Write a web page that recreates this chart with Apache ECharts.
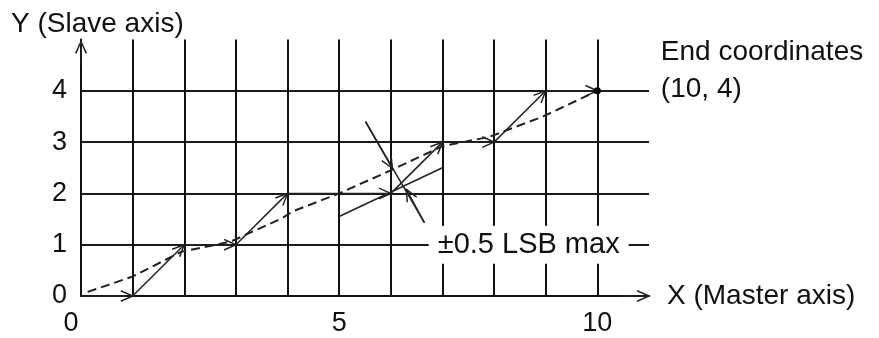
<!DOCTYPE html>
<html>
<head>
<meta charset="utf-8">
<script src="https://cdn.jsdelivr.net/npm/echarts@6/dist/echarts.min.js"></script>
<style>
  html, body { margin: 0; padding: 0; background: #fff; }
  #chart { width: 879px; height: 338px; }
</style>
</head>
<body>
<div id="chart"></div>
<script>
  // tick labels shown on the axes
  var xTicks = [0, 5, 10];
  var yTicks = [0, 1, 2, 3, 4];

  // solid steps taken by the slave axis: [x1, y1, x2, y2, arrowhead]
  var stepSegments = [
    [0, 0, 1, 0, 1], [1, 0, 2, 1, 1], [2, 1, 3, 1, 1], [3, 1, 4, 2, 1],
    [4, 2, 5, 2, 0], [5, 2, 6, 2, 1], [6, 2, 7, 3, 1], [7, 3, 8, 3, 1],
    [8, 3, 9, 4, 1], [9, 4, 10, 4, 1]
  ];
  // error marker around (6, 2)
  var errorSegments = [
    [5, 1.55, 7, 2.5, 0],
    [5.51, 3.4, 6.65, 1.43, 0],
    [5.51, 3.4, 6.03, 2.49, 1],
    [6.65, 1.43, 6.3, 2.08, 1]
  ];
  // axis arrowheads
  var axisHeads = [[0, 4.5, 0, 4.96, 1], [10.4, 0, 11, 0, 1]];

  // dashed ideal path
  var idealPath = [
    [0.13, 0.08], [1, 0.38], [1.94, 0.86], [2.9, 1.06], [3.9, 1.52], [4.1, 1.65],
    [5, 2.0], [6, 2.45], [7, 2.92], [7.9, 3.1], [8.95, 3.5], [10, 4]
  ];
  var endPoint = [10, 4];
  var errorLabelAt = [8.67, 1];

  var FONT = 'Liberation Sans, Arial, sans-serif';

  function renderArrow(params, api) {
    var p1 = api.coord([api.value(0), api.value(1)]);
    var p2 = api.coord([api.value(2), api.value(3)]);
    var style = { stroke: '#222', lineWidth: 1.5, fill: null };
    var kids = [{
      type: 'line',
      shape: { x1: p1[0], y1: p1[1], x2: p2[0], y2: p2[1] },
      style: style
    }];
    if (api.value(4)) {
      var a = Math.atan2(p2[1] - p1[1], p2[0] - p1[0]);
      var L = 13, w = 0.42;
      kids.push({
        type: 'polyline',
        shape: { points: [
          [p2[0] - L * Math.cos(a - w), p2[1] - L * Math.sin(a - w)],
          [p2[0], p2[1]],
          [p2[0] - L * Math.cos(a + w), p2[1] - L * Math.sin(a + w)]
        ] },
        style: style
      });
    }
    return { type: 'group', children: kids };
  }

  var chart = echarts.init(document.getElementById('chart'));
  chart.setOption({
    animation: false,
    backgroundColor: '#fff',
    textStyle: { fontFamily: FONT },
    grid: { left: 81, right: 230, top: 39.5, bottom: 42 },
    graphic: [{
      type: 'text', left: 11, top: 10,
      style: { text: 'Y (Slave axis)', font: '28px ' + FONT, fill: '#111' }
    }],
    xAxis: {
      type: 'value', min: 0, max: 11, interval: 1,
      name: 'X (Master axis)', nameLocation: 'end', nameGap: 18,
      nameTextStyle: { fontSize: 28, color: '#111', verticalAlign: 'middle' },
      axisLine: { lineStyle: { color: '#111', width: 2 } },
      axisTick: { show: false },
      splitLine: { show: true, showMinLine: false, showMaxLine: false, lineStyle: { color: '#111', width: 2 } },
      axisLabel: {
        margin: 14, fontSize: 27, color: '#111', showMaxLabel: false,
        formatter: function (v) {
          if (xTicks.indexOf(v) < 0) return '';
          return v === 0 ? '{z|0}' : String(v);
        },
        rich: { z: { fontSize: 27, color: '#111', padding: [0, 20, 0, 0] } }
      }
    },
    yAxis: {
      type: 'value', min: 0, max: 5, interval: 1,
      axisLine: { lineStyle: { color: '#111', width: 2 } },
      axisTick: { show: false },
      splitLine: { show: true, showMinLine: false, showMaxLine: false, lineStyle: { color: '#1a1a1a', width: 2 } },
      axisLabel: {
        margin: 14, fontSize: 27, color: '#111', showMaxLabel: false,
        formatter: function (v) { return yTicks.indexOf(v) < 0 ? '' : String(v); }
      }
    },
    series: [
      {
        type: 'line', data: idealPath, symbol: 'none', z: 3,
        lineStyle: { color: '#222', width: 2, type: [9, 5] }
      },
      {
        type: 'custom', renderItem: renderArrow, z: 4,
        data: stepSegments.concat(errorSegments).concat(axisHeads)
      },
      {
        type: 'scatter', data: [endPoint], symbolSize: 7, z: 5,
        itemStyle: { color: '#000', opacity: 1 },
        label: {
          show: true, position: 'right', offset: [55, -20],
          formatter: 'End coordinates\n(10, 4)',
          fontSize: 28, lineHeight: 37, color: '#111', align: 'left'
        }
      },
      {
        type: 'scatter', data: [errorLabelAt], symbolSize: 1, z: 6,
        itemStyle: { color: '#fff', opacity: 1 },
        label: {
          show: true, position: 'inside',
          formatter: '±0.5 LSB max',
          fontSize: 29, lineHeight: 26, color: '#111',
          backgroundColor: '#fff', padding: [6, 9]
        }
      }
    ]
  });
</script>
</body>
</html>
